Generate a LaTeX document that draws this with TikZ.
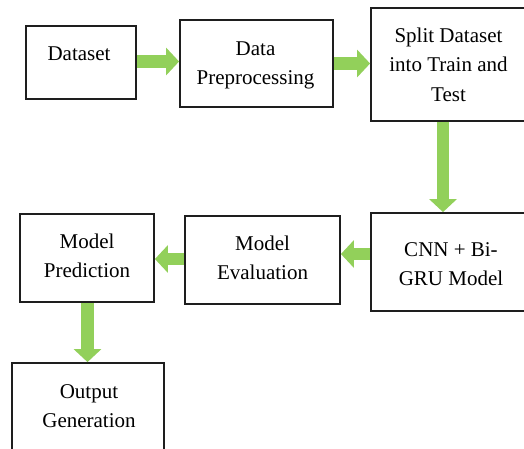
\documentclass[tikz,border=0pt]{standalone}
\usepackage{fontspec}
\setmainfont{Liberation Serif}
\usetikzlibrary{arrows.meta,calc}
\definecolor{agreen}{RGB}{146,208,90}
\definecolor{boxline}{RGB}{30,30,30}
\newcommand\fl{\rule{0pt}{14.5pt}}
\tikzset{
  box/.style={draw=boxline, line width=1.8pt, fill=white, inner sep=0pt},
  txt/.style={anchor=north, inner sep=0pt, align=center, font=\fontsize{21}{29.5}\selectfont},
  garrow/.style={draw=agreen, line width=12.5pt, -{Triangle[width=27pt,length=13pt]}}
}
\begin{document}
\begin{tikzpicture}[x=1pt,y=-1pt]
\clip (0,0) rectangle (524,448);
\fill[white] (0,0) rectangle (524,448);
% boxes
\node[box, minimum width=110pt, minimum height=73pt] (d) at (81,62.5) {};
\node[box, minimum width=153pt, minimum height=87pt] (p) at (256.5,63.5) {};
\node[box, minimum width=157pt, minimum height=113pt] (s) at (449.5,64.5) {};
\node[box, minimum width=157pt, minimum height=98pt] (c) at (449.5,262) {};
\node[box, minimum width=155pt, minimum height=88pt] (e) at (262.5,260) {};
\node[box, minimum width=134pt, minimum height=88pt] (m) at (87,258) {};
\node[box, minimum width=152pt, minimum height=92pt] (o) at (88,409) {};
% texts (first-line baseline = y + 14.5)
\node[txt] (td) at (79,46) {\fl Dataset};
\node[txt] (tp) at (255.5,40.5) {\fl Data\\Preprocessing};
\node[txt] (ts) at (448.5,27.5) {\fl Split Dataset\\into Train and\\Test};
\node[txt] (tc) at (451,241.5) {\fl CNN + Bi-\\GRU Model};
\node[txt] (te) at (262.5,235.5) {\fl Model\\Evaluation};
\node[txt] (tm) at (87,233.5) {\fl Model\\Prediction};
\node[txt] (to) at (89,383.5) {\fl Output\\Generation};
% arrows
\draw[garrow] ([yshift=1pt]d.east) -- ([yshift=1pt]d.east -| p.west);
\draw[garrow] (p.east) -- (p.east -| s.west);
\draw[garrow] ([xshift=-6.5pt]s.south) -- ([xshift=-6.5pt]s.south |- c.north);
\draw[garrow] ([yshift=8pt]c.west) -- ([yshift=8pt]c.west -| e.east);
\draw[garrow] ([yshift=1pt]e.west) -- ([yshift=1pt]e.west -| m.east);
\draw[garrow] ([xshift=0.5pt]m.south) -- ([xshift=0.5pt]m.south |- o.north);
\end{tikzpicture}
\end{document}
